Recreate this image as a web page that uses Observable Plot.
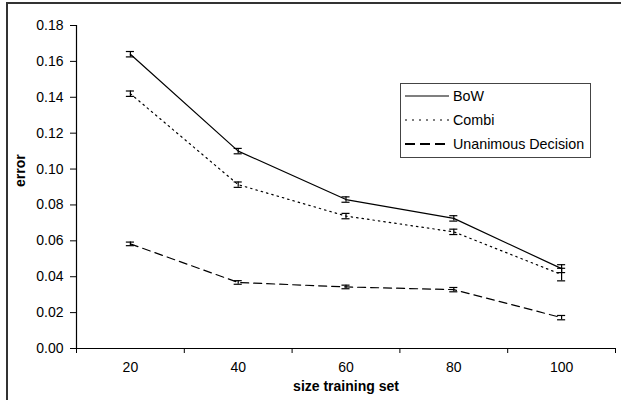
<!DOCTYPE html>
<html>
<head>
<meta charset="utf-8">
<script src="https://cdn.jsdelivr.net/npm/d3@7"></script>
<script src="https://cdn.jsdelivr.net/npm/@observablehq/plot@0.6"></script>
<style>
  html, body { margin: 0; padding: 0; background: #fff; overflow: hidden; }
  #wrap { position: relative; width: 621px; height: 400px; font-family: "Liberation Sans", Arial, sans-serif; }
  #frame { position: absolute; left: 6px; top: 2px; width: 800px; height: 600px; border-left: 2px solid #333; border-top: 2px solid #333; pointer-events: none; }
  #legend { position: absolute; left: 400px; top: 83px; width: 189px; height: 73px; border: 1px solid #444; background: #fff; font-size: 14.3px; }
  #legend .item { position: absolute; left: 4px; height: 16px; display: flex; align-items: center; white-space: nowrap; }
  #legend svg { margin-right: 4px; }
</style>
</head>
<body>
<div id="wrap"><div id="chart"></div><div id="frame"></div><div id="legend"></div></div>
<script>
const sizes = [20, 40, 60, 80, 100];
const bow = [0.164, 0.110, 0.083, 0.0725, 0.0445];
const bowErr = [0.0015, 0.0015, 0.0015, 0.0015, 0.0022];
const combi = [0.142, 0.0913, 0.0738, 0.065, 0.0412];
const combiErr = [0.0015, 0.0015, 0.0015, 0.0015, 0.0035];
const unanimous = [0.0583, 0.0368, 0.0343, 0.0328, 0.0172];
const unanimousErr = [0.001, 0.001, 0.001, 0.0012, 0.0012];
const seriesNames = ["BoW", "Combi", "Unanimous Decision"];
const dashes = ["none", "1.5,4", "8,5"];
const yTicks = [0, 0.02, 0.04, 0.06, 0.08, 0.10, 0.12, 0.14, 0.16, 0.18];
const xBoundaries = [10, 30, 50, 70, 90, 110];

const values = [bow, combi, unanimous];
const errs = [bowErr, combiErr, unanimousErr];
const data = [];
values.forEach((vals, s) => vals.forEach((v, i) => data.push({series: seriesNames[s], x: sizes[i], y: v, e: errs[s][i]})));

const capHalf = 0.75;
const lineMarks = seriesNames.map((name, s) =>
  Plot.line(data.filter(d => d.series === name), {x: "x", y: "y", stroke: "#000", strokeWidth: 1.2, strokeDasharray: dashes[s]})
);

const chart = Plot.plot({
  width: 621,
  height: 400,
  marginLeft: 76,
  marginRight: 6,
  marginTop: 25,
  marginBottom: 52,
  style: {fontFamily: "'Liberation Sans', Arial, sans-serif", fontSize: "14px", background: "transparent", color: "#000"},
  x: {domain: [10, 110]},
  y: {domain: [0, 0.18]},
  marks: [
    Plot.axisY({ticks: yTicks, tickFormat: d3.format(".2f"), tickSize: 6, tickPadding: 7, label: null, fontSize: 14}),
    Plot.axisX({ticks: xBoundaries, tickFormat: () => "", tickSize: 5, label: null}),
    Plot.axisX({ticks: sizes, tickFormat: d => String(d), tickSize: 0, tickPadding: 14, label: null, fontSize: 14}),
    Plot.ruleX([10], {stroke: "#000", strokeWidth: 1.2}),
    Plot.ruleY([0], {stroke: "#000", strokeWidth: 1.2}),
    ...lineMarks,
    Plot.ruleX(data, {x: "x", y1: d => d.y - d.e, y2: d => d.y + d.e, stroke: "#000", strokeWidth: 1.2}),
    Plot.ruleY(data, {y: d => d.y - d.e, x1: d => d.x - capHalf, x2: d => d.x + capHalf, stroke: "#000", strokeWidth: 1.2}),
    Plot.ruleY(data, {y: d => d.y + d.e, x1: d => d.x - capHalf, x2: d => d.x + capHalf, stroke: "#000", strokeWidth: 1.2}),
    Plot.text(["error"], {frameAnchor: "left", dx: -56, rotate: -90, fontWeight: "bold", fontSize: 14}),
    Plot.text(["size training set"], {frameAnchor: "bottom", dy: 42, fontWeight: "bold", fontSize: 14})
  ]
});
document.getElementById("chart").appendChild(chart);

const legend = document.getElementById("legend");
seriesNames.forEach((name, s) => {
  const div = document.createElement("div");
  div.className = "item";
  div.style.top = (4 + s * 24) + "px";
  div.innerHTML = `<svg width="44" height="4"><line x1="0" y1="2" x2="44" y2="2" stroke="#000" stroke-width="${s === 2 ? 2 : 1.2}" stroke-dasharray="${dashes[s] === 'none' ? '' : (s === 1 ? '2,5' : '10,5')}"/></svg><span>${name}</span>`;
  legend.appendChild(div);
});
</script>
</body>
</html>
